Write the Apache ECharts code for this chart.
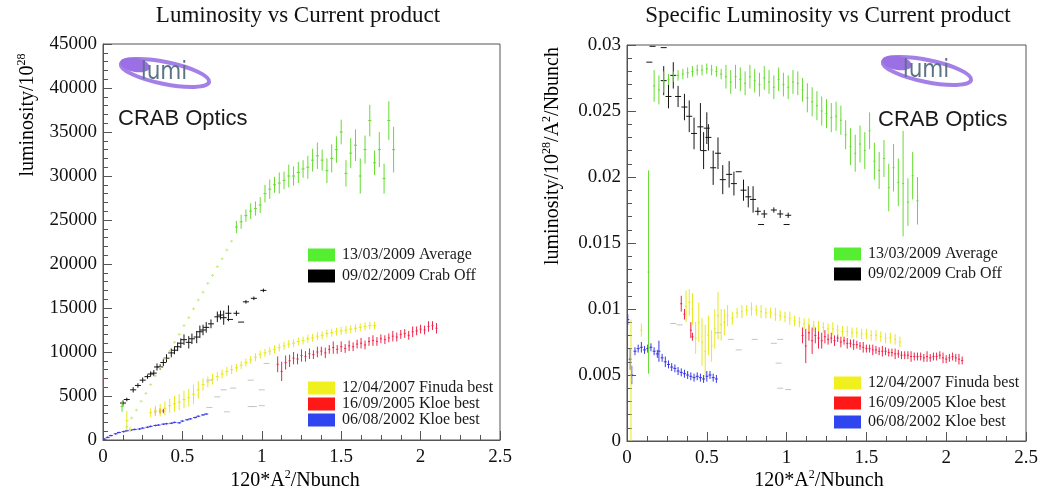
<!DOCTYPE html>
<html><head><meta charset="utf-8">
<script src="https://cdn.jsdelivr.net/npm/echarts@6/dist/echarts.min.js"></script>
<style>html,body{margin:0;padding:0;background:#fff}#c{width:1042px;height:496px}</style>
</head><body><div id="c"></div>
<script>
// ---------- Left panel: Luminosity vs Current product ----------
const lumGreenX = [0.12,0.15,0.18,0.21,0.24,0.27,0.30,0.33,0.36,0.39,0.42,0.45,0.48,0.51,0.54,0.57,0.60,0.63,0.66,0.69,0.72,0.75,0.78,0.81,0.84,0.87,0.90,0.93,0.96,0.99,1.02,1.05,1.08,1.11,1.14,1.17,1.20,1.23,1.26,1.29,1.32,1.35,1.38,1.41,1.44,1.47,1.50,1.53,1.56,1.59,1.62,1.65,1.68,1.71,1.74,1.77,1.80,1.83];
const lumGreenY = [3800,1500,2500,3400,4400,5300,6300,7300,8200,9200,10100,11100,12000,13000,13900,14900,15900,16800,17800,18700,19700,20600,21600,22600,24200,24800,25500,26000,26300,26700,28000,28500,29000,29200,29500,30000,30000,30400,30800,31000,31800,32300,31800,30600,32000,33000,35000,30300,32600,33500,30000,33000,36300,31500,33000,29700,36300,33000];
const lumGreenErr = [600,150,150,150,150,150,150,150,150,150,150,150,150,150,150,150,150,150,150,150,150,150,150,150,700,800,700,900,800,900,1000,1100,900,1200,1000,1300,1100,1200,1000,1300,1300,1500,1200,1400,1600,1500,1400,1500,1700,1800,2000,1600,1800,1400,2000,1700,2200,2600];

const lumBlackX = [0.126,0.15,0.19,0.22,0.25,0.28,0.30,0.32,0.34,0.36,0.38,0.40,0.43,0.45,0.47,0.49,0.51,0.54,0.56,0.59,0.61,0.63,0.65,0.68,0.72,0.74,0.76,0.79,0.80,0.84,0.87,0.90,0.95,1.01];
const lumBlackY = [4200,4600,5700,6200,6800,7200,7500,7600,8300,8300,8800,9300,9900,10200,10600,11000,11400,11100,11500,11700,12300,12500,12800,13200,14000,14200,13900,14400,13700,14400,13400,15700,16100,17000];
const lumBlackErr = [300,200,300,250,300,250,300,350,400,300,400,450,500,450,500,550,600,700,600,700,700,600,600,500,600,500,800,900,0,300,0,200,200,200];

const lumYellowX = [0.15,0.17,0.30,0.33,0.36,0.39,0.42,0.45,0.48,0.51,0.54,0.57,0.60,0.63,0.66,0.69,0.72,0.75,0.78,0.81,0.84,0.87,0.90,0.93,0.96,0.99,1.02,1.05,1.08,1.11,1.14,1.17,1.20,1.23,1.26,1.29,1.32,1.35,1.38,1.41,1.44,1.47,1.50,1.53,1.56,1.59,1.62,1.65,1.68,1.71];
const lumYellowY = [2200,1200,3100,3300,3400,3600,3900,4100,4300,4600,4800,5200,5700,6300,6600,6900,7200,7500,7800,8000,8200,8500,8800,9100,9400,9700,9900,10100,10300,10500,10700,10900,11000,11200,11300,11500,11600,11800,11900,12100,12200,12300,12400,12500,12600,12700,12800,12900,13000,13000];
const lumYellowErr = [1100,300,500,600,700,800,800,900,900,1000,1000,1100,1000,700,600,600,500,500,500,500,450,450,450,450,450,450,450,450,450,450,450,450,450,450,450,450,450,450,450,450,450,450,450,450,450,450,450,450,450,450];

const lumRedX = [0.003,0.33,0.36,0.38,1.100,1.125,1.150,1.175,1.200,1.225,1.250,1.275,1.300,1.325,1.350,1.375,1.400,1.425,1.450,1.475,1.500,1.525,1.550,1.575,1.600,1.625,1.650,1.675,1.700,1.725,1.750,1.775,1.800,1.825,1.850,1.875,1.900,1.925,1.950,1.975,2.000,2.025,2.050,2.075,2.100];
const lumRedY = [7000,3200,3300,3300,8600,7800,8800,9000,9300,9200,9600,9500,9800,9700,10000,10100,9900,10300,10500,10300,10600,10400,10700,10600,10900,11000,10800,11200,11300,11200,11500,11400,11600,11800,11700,12000,12100,11900,12300,12400,12600,12500,12900,13000,12700];
const lumRedErr = [1300,400,300,250,900,1100,800,700,700,600,700,600,600,500,600,500,600,500,700,500,600,500,600,500,500,600,500,500,600,500,500,500,500,600,500,500,500,500,600,500,500,500,600,500,600];

const lumBlueX = [0.01,0.03,0.05,0.08,0.10,0.13,0.15,0.18,0.20,0.23,0.25,0.28,0.30,0.33,0.35,0.38,0.40,0.43,0.45,0.48,0.50,0.53,0.55,0.58,0.60,0.63,0.65];
const lumBlueY = [100,300,500,700,850,950,1050,1150,1200,1250,1350,1450,1550,1650,1700,1800,1850,1900,2000,1950,2150,2300,2400,2550,2700,2850,2950];
const lumBlueErr = [100,100,100,100,100,100,100,100,100,100,100,100,100,100,100,100,100,100,100,100,100,100,100,100,100,100,100];

const lumGreyX = [0.67,0.67,0.72,0.76,0.78,0.82,0.93,0.93,0.95,1.00,1.00,1.03];
const lumGreyY = [6800,3700,4900,5700,3200,5900,6800,3800,3800,5700,3900,8700];

// ---------- Right panel: Specific Luminosity vs Current product ----------
const spGreenX = [0.135,0.17,0.20,0.23,0.26,0.29,0.32,0.35,0.38,0.41,0.44,0.47,0.50,0.53,0.56,0.59,0.62,0.65,0.68,0.71,0.74,0.77,0.80,0.83,0.86,0.89,0.92,0.95,0.98,1.01,1.04,1.07,1.10,1.13,1.16,1.19,1.22,1.25,1.28,1.31,1.34,1.37,1.40,1.43,1.46,1.49,1.52,1.55,1.58,1.61,1.64,1.67,1.70,1.73,1.76,1.79,1.82];
const spGreenY = [0.0128,0.0269,0.0266,0.0272,0.0274,0.0276,0.0277,0.0278,0.0279,0.0280,0.0281,0.0281,0.0282,0.0281,0.0280,0.0278,0.0276,0.0272,0.0276,0.0274,0.0271,0.0276,0.0273,0.0270,0.0275,0.0272,0.0268,0.0274,0.0270,0.0268,0.0272,0.0271,0.0266,0.0260,0.0257,0.0254,0.0250,0.0248,0.0245,0.0246,0.0243,0.0232,0.0223,0.0218,0.0225,0.0220,0.0235,0.0212,0.0205,0.0214,0.0192,0.0207,0.0196,0.0195,0.0181,0.0201,0.0182];
const spGreenErr = [0.0077,0.0012,0.0011,0.0008,0.0004,0.0004,0.0004,0.0004,0.0004,0.0004,0.0004,0.0004,0.0004,0.0004,0.0004,0.0004,0.0009,0.0009,0.0009,0.0009,0.0009,0.0009,0.0009,0.0009,0.0009,0.0009,0.0009,0.0009,0.0009,0.0009,0.0009,0.0009,0.0009,0.0011,0.0011,0.0011,0.0011,0.0011,0.0011,0.0011,0.0011,0.0011,0.0014,0.0014,0.0014,0.0014,0.0014,0.0014,0.0014,0.0014,0.0018,0.0018,0.0018,0.0040,0.0018,0.0018,0.0018];

const spBlackX = [0.14,0.16,0.23,0.23,0.26,0.29,0.32,0.36,0.39,0.42,0.46,0.48,0.50,0.51,0.54,0.57,0.60,0.64,0.67,0.70,0.73,0.76,0.79,0.82,0.84,0.86,0.92,0.96,1.00,1.01];
const spBlackY = [0.0287,0.0299,0.0298,0.0273,0.0261,0.0277,0.0261,0.0253,0.0246,0.0233,0.0238,0.0220,0.0237,0.0230,0.0207,0.0218,0.0198,0.0202,0.0195,0.0204,0.0190,0.0185,0.0183,0.0174,0.0164,0.0172,0.0175,0.0172,0.0164,0.0171];
const spBlackErr = [0,0,0,0.0011,0.0009,0.0010,0.0008,0.0010,0.0012,0.0012,0.0018,0.0014,0.0012,0.0010,0.0013,0.0012,0.0011,0.0010,0.0009,0,0.0008,0.0008,0.0010,0.0003,0,0.0003,0.0002,0.0003,0,0.0002];

const spYellowX = [0.025,0.09,0.37,0.39,0.41,0.43,0.45,0.47,0.49,0.51,0.53,0.55,0.57,0.59,0.61,0.63,0.66,0.69,0.72,0.75,0.78,0.81,0.84,0.87,0.90,0.93,0.96,0.99,1.02,1.05,1.08,1.11,1.14,1.17,1.20,1.23,1.26,1.29,1.32,1.35,1.38,1.41,1.44,1.47,1.50,1.53,1.56,1.59,1.62,1.65,1.68,1.71];
const spYellowY = [0.0046,0.0084,0.0102,0.0105,0.0100,0.0078,0.0090,0.0075,0.0068,0.0080,0.0072,0.0085,0.0095,0.0088,0.0090,0.0095,0.0093,0.0097,0.0098,0.0099,0.0100,0.0099,0.0098,0.0097,0.0097,0.0096,0.0095,0.0094,0.0093,0.0091,0.0090,0.0089,0.0088,0.0087,0.0087,0.0086,0.0085,0.0085,0.0084,0.0083,0.0083,0.0082,0.0082,0.0081,0.0081,0.0080,0.0080,0.0079,0.0078,0.0078,0.0077,0.0075];
const spYellowErr = [0.0046,0.0005,0.0012,0.0010,0.0012,0.0012,0.0015,0.0018,0.0020,0.0015,0.0012,0.0015,0.0018,0.0012,0.0010,0.0008,0.0005,0.0004,0.0005,0.0004,0.0005,0.0004,0.0005,0.0004,0.0004,0.0005,0.0004,0.0004,0.0005,0.0004,0.0004,0.0004,0.0005,0.0004,0.0004,0.0004,0.0004,0.0005,0.0004,0.0004,0.0004,0.0004,0.0004,0.0004,0.0004,0.0004,0.0004,0.0004,0.0004,0.0004,0.0004,0.0004];

const spRedX = [0.34,0.36,0.40,0.41,1.10,1.12,1.14,1.16,1.18,1.20,1.22,1.24,1.26,1.28,1.30,1.32,1.34,1.36,1.38,1.40,1.42,1.44,1.46,1.48,1.50,1.52,1.54,1.56,1.58,1.60,1.62,1.64,1.66,1.68,1.70,1.72,1.74,1.76,1.78,1.80,1.82,1.84,1.86,1.88,1.90,1.92,1.94,1.96,1.98,2.00,2.02,2.04,2.06,2.08,2.10];
const spRedY = [0.0104,0.0096,0.0084,0.0079,0.0080,0.0072,0.0082,0.0076,0.0080,0.0078,0.0076,0.0079,0.0077,0.0078,0.0076,0.0078,0.0075,0.0076,0.0074,0.0074,0.0073,0.0073,0.0072,0.0071,0.0070,0.0070,0.0069,0.0069,0.0068,0.0068,0.0068,0.0067,0.0067,0.0066,0.0066,0.0065,0.0065,0.0065,0.0064,0.0064,0.0064,0.0064,0.0063,0.0064,0.0063,0.0064,0.0064,0.0065,0.0063,0.0062,0.0063,0.0064,0.0063,0.0062,0.0061];
const spRedErr = [0.0006,0.0004,0.0006,0.0003,0.0006,0.0013,0.0006,0.0010,0.0006,0.0008,0.0006,0.0005,0.0004,0.0004,0.0004,0.0003,0.0004,0.0003,0.0004,0.0003,0.0004,0.0003,0.0003,0.0004,0.0003,0.0003,0.0004,0.0003,0.0003,0.0004,0.0003,0.0003,0.0003,0.0004,0.0003,0.0003,0.0003,0.0003,0.0004,0.0003,0.0003,0.0003,0.0003,0.0004,0.0003,0.0003,0.0003,0.0003,0.0004,0.0003,0.0003,0.0003,0.0003,0.0004,0.0003];

const spBlueX = [0.005,0.02,0.03,0.05,0.07,0.09,0.11,0.13,0.15,0.17,0.19,0.20,0.22,0.24,0.26,0.28,0.30,0.32,0.34,0.36,0.38,0.40,0.42,0.44,0.46,0.48,0.50,0.52,0.54,0.56];
const spBlueY = [0.0092,0.0062,0.0050,0.0068,0.0070,0.0071,0.0069,0.0070,0.0071,0.0068,0.0066,0.0068,0.0063,0.0060,0.0058,0.0056,0.0055,0.0053,0.0052,0.0051,0.0050,0.0049,0.0048,0.0049,0.0048,0.0047,0.0049,0.0050,0.0048,0.0047];
const spBlueErr = [0.0004,0.0008,0.0007,0.0003,0.0003,0.0004,0.0003,0.0003,0.0003,0.0003,0.0003,0.0008,0.0003,0.0004,0.0003,0.0003,0.0003,0.0003,0.0003,0.0003,0.0003,0.0003,0.0003,0.0003,0.0003,0.0003,0.0004,0.0003,0.0003,0.0003];

const spGreyX = [0.29,0.33,0.65,0.70,0.80,0.92,0.96,0.96,1.01,0.95,0.57];
const spGreyY = [0.0089,0.0088,0.0077,0.0069,0.0077,0.0074,0.0077,0.0040,0.0039,0.0059,0.0082];

// ---------- texts ----------
const titles = ['Luminosity vs Current product', 'Specific Luminosity vs Current product'];
const legendUpper = ['13/03/2009 Average', '09/02/2009 Crab Off'];
const legendLower = ['12/04/2007 Finuda best', '16/09/2005 Kloe best', '06/08/2002 Kloe best'];
const xTicks = [0, 0.5, 1, 1.5, 2, 2.5];

const COL = {green:'#66dc30', greenFaint:'#c4ee7a', black:'#151515', yellow:'#e8e81c', red:'#ef2448', blue:'#3838e8', grey:'#c4c4c4'};
const BOX = ['#55ee30', '#000000', '#f0f01e', '#ff1818', '#2f45f0'];

function pack(xs, ys, es) { return xs.map((x, i) => [x, ys[i], es ? es[i] : 0]); }

// faintBelow: error bars whose half-length is below this many pixels are drawn in a paler tone
function errSeries(name, gi, data, color, capHalf, lw, faintColor) {
  return {
    type: 'custom', name, xAxisIndex: gi, yAxisIndex: gi, clip: true,
    data, encode: {x: 0, y: 1},
    renderItem: function (params, api) {
      const x = api.value(0), y = api.value(1), e = api.value(2);
      const c = api.coord([x, y]);
      const ch = [];
      let stroke = color;
      if (e > 0) {
        const t = api.coord([x, y + e]), b = api.coord([x, y - e]);
        if (faintColor && Math.abs(b[1] - t[1]) < 4) stroke = faintColor;
        ch.push({type: 'line', shape: {x1: c[0], y1: t[1], x2: c[0], y2: b[1]}, style: {stroke, lineWidth: lw}});
      }
      if (capHalf > 0) {
        ch.push({type: 'line', shape: {x1: c[0] - capHalf, y1: c[1], x2: c[0] + capHalf, y2: c[1]}, style: {stroke, lineWidth: lw}});
      }
      return {type: 'group', children: ch};
    }
  };
}

const serif = '"Liberation Serif","Times New Roman",serif';
function xAxisCfg(gi) {
  return {
    type: 'value', gridIndex: gi, min: 0, max: 2.5, interval: 0.5,
    axisLine: {show: true, lineStyle: {color: '#555', width: 1}},
    axisTick: {inside: true, length: 9, lineStyle: {color: '#555'}},
    minorTick: {show: true, splitNumber: 4, length: 5, lineStyle: {color: '#555'}},
    splitLine: {show: false},
    axisLabel: {fontFamily: serif, fontSize: 19, color: '#111', margin: 8,
      formatter: v => String(xTicks.find(t => Math.abs(t - v) < 1e-9) ?? v)}
  };
}
function yAxisCfg(gi, max, interval, fmt) {
  return {
    type: 'value', gridIndex: gi, min: 0, max, interval,
    axisLine: {show: true, lineStyle: {color: '#555', width: 1}},
    axisTick: {inside: true, length: 9, lineStyle: {color: '#555'}},
    minorTick: {show: true, splitNumber: 5, length: 5, lineStyle: {color: '#555'}},
    splitLine: {show: false},
    axisLabel: {fontFamily: serif, fontSize: 19, color: '#111', margin: 6, formatter: fmt}
  };
}

function legendItems(x0, ys, colors, labels) {
  const out = [];
  ys.forEach((y, i) => {
    out.push({type: 'rect', shape: {x: x0, y: y - 6.5, width: 27, height: 13}, style: {fill: colors[i]}});
    out.push({type: 'text', x: x0 + 34, y: y, style: {text: labels[i], font: '16px ' + serif, fill: '#1a1a1a', align: 'left', verticalAlign: 'middle', textAlign: 'left', textVerticalAlign: 'middle'}});
  });
  return out;
}
function logo(cx, cy) {
  return [
    {type: 'group', x: cx, y: cy, rotation: -0.2, children: [
      {type: 'ellipse', shape: {cx: 0, cy: 0, rx: 45, ry: 11}, style: {fill: 'rgba(0,0,0,0)', stroke: '#a47fe8', lineWidth: 4}},
      {type: 'ellipse', shape: {cx: -31, cy: -2, rx: 15, ry: 7}, style: {fill: '#9a70e4'}}
    ]},
    {type: 'text', x: cx - 1, y: cy, style: {text: 'lumi', font: '24px "Liberation Sans Narrow","DejaVu Sans Condensed",sans-serif', fill: '#5c7486', align: 'center', verticalAlign: 'middle', textAlign: 'center', textVerticalAlign: 'middle'}}
  ];
}
const rich = {
  a: {fontFamily: serif, fontSize: 20, color: '#111', lineHeight: 24},
  s: {fontFamily: serif, fontSize: 12, color: '#111', lineHeight: 12, verticalAlign: 'top'}
};
function richText(x, y, txt, rot) {
  return {type: 'text', x, y, rotation: rot || 0, style: {text: txt, rich, align: 'center', verticalAlign: 'middle', textAlign: 'center', textVerticalAlign: 'middle'}};
}

const graphic = [
  {type: 'text', x: 298, y: 16, style: {text: titles[0], font: '23px ' + serif, fill: '#111', align: 'center', verticalAlign: 'middle', textAlign: 'center', textVerticalAlign: 'middle'}},
  {type: 'text', x: 828, y: 16, style: {text: titles[1], font: '23px ' + serif, fill: '#111', align: 'center', verticalAlign: 'middle', textAlign: 'center', textVerticalAlign: 'middle'}},
  richText(295, 481, '{a|120*A}{s|2}{a|/Nbunch}'),
  richText(819, 481, '{a|120*A}{s|2}{a|/Nbunch}'),
  richText(28, 115, '{a|luminosity/10}{s|28}', Math.PI / 2),
  richText(553, 156, '{a|luminosity/10}{s|28}{a|/A}{s|2}{a|/Nbunch}', Math.PI / 2),
  {type: 'text', x: 118, y: 119, style: {text: 'CRAB Optics', font: '22px "Liberation Sans",Arial,sans-serif', fill: '#1a1a1a', align: 'left', verticalAlign: 'middle', textAlign: 'left', textVerticalAlign: 'middle'}},
  {type: 'text', x: 878, y: 120, style: {text: 'CRAB Optics', font: '22px "Liberation Sans",Arial,sans-serif', fill: '#1a1a1a', align: 'left', verticalAlign: 'middle', textAlign: 'left', textVerticalAlign: 'middle'}},
  ...logo(165, 73),
  ...logo(927, 71),
  ...legendItems(308, [255, 276], BOX.slice(0, 2), legendUpper),
  ...legendItems(308, [388, 404, 420], BOX.slice(2), legendLower),
  ...legendItems(834, [254, 274], BOX.slice(0, 2), legendUpper),
  ...legendItems(834, [383, 403, 422], BOX.slice(2), legendLower)
];

const chart = echarts.init(document.getElementById('c'), null, {renderer: 'canvas'});
chart.setOption({
  animation: false,
  backgroundColor: '#fff',
  grid: [
    {left: 103, top: 44, width: 397, height: 396, show: true, borderColor: '#555', borderWidth: 1, backgroundColor: 'transparent'},
    {left: 627, top: 45, width: 399, height: 396, show: true, borderColor: '#555', borderWidth: 1, backgroundColor: 'transparent'}
  ],
  xAxis: [xAxisCfg(0), xAxisCfg(1)],
  yAxis: [
    yAxisCfg(0, 45000, 5000, v => String(v)),
    yAxisCfg(1, 0.03, 0.005, v => String(+v.toFixed(4)))
  ],
  graphic,
  series: [
    errSeries(legendLower[2], 0, pack(lumBlueX, lumBlueY, lumBlueErr), COL.blue, 2, 1),
    errSeries(legendLower[1], 0, pack(lumRedX, lumRedY, lumRedErr), COL.red, 1, 1),
    errSeries(legendLower[0], 0, pack(lumYellowX, lumYellowY, lumYellowErr), COL.yellow, 1.5, 1),
    errSeries('faint', 0, pack(lumGreyX, lumGreyY, null), COL.grey, 3, 1),
    errSeries(legendUpper[1], 0, pack(lumBlackX, lumBlackY, lumBlackErr), COL.black, 3, 1),
    errSeries(legendUpper[0], 0, pack(lumGreenX, lumGreenY, lumGreenErr), COL.green, 1.5, 1, COL.greenFaint),
    errSeries(legendLower[2], 1, pack(spBlueX, spBlueY, spBlueErr), COL.blue, 1.5, 1),
    errSeries(legendLower[1], 1, pack(spRedX, spRedY, spRedErr), COL.red, 1, 1),
    errSeries(legendLower[0], 1, pack(spYellowX, spYellowY, spYellowErr), COL.yellow, 1, 1),
    errSeries('faint', 1, pack(spGreyX, spGreyY, null), COL.grey, 3, 1),
    errSeries(legendUpper[1], 1, pack(spBlackX, spBlackY, spBlackErr), COL.black, 3, 1),
    errSeries(legendUpper[0], 1, pack(spGreenX, spGreenY, spGreenErr), COL.green, 1, 1)
  ]
});
</script></body></html>
